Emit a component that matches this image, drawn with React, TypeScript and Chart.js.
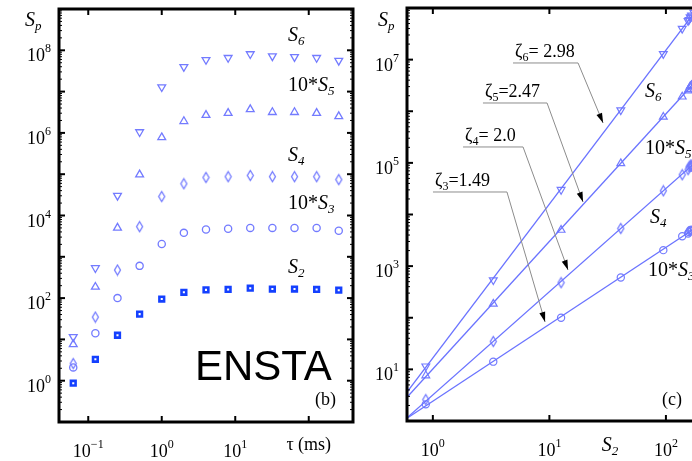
import React, { useEffect, useRef } from 'react';
import { Chart, registerables } from 'chart.js';

Chart.register(...registerables);

// ---------------- data ----------------
const tauMs = [0.0625, 0.125, 0.25, 0.5, 1, 2, 4, 8, 16, 32, 64, 128, 256];
const S2 = [0.87, 3.3, 12.6, 41, 95, 138, 158, 162, 174, 166, 166, 162, 155];
const tenS3 = [2.1, 14.1, 100, 603, 2040, 3800, 4570, 4790, 5010, 5010, 5010, 5010, 4270];
const S4 = [2.6, 34.7, 479, 5370, 28800, 58900, 83200, 87100, 93300, 87100, 87100, 87100, 74100];
const tenS5 = [7.6, 186, 5010, 97700, 776000, 1910000, 2690000, 3020000, 3720000, 3160000, 3160000, 3020000, 2510000];
const S6 = [11.5, 537, 30200, 1050000, 12900000, 39800000, 58900000, 66100000, 81300000, 72400000, 69200000, 66100000, 56200000];

const zeta3 = 1.49;
const zeta4 = 2.0;
const zeta5 = 2.47;
const zeta6 = 2.98;

// tick labels
const leftXTickLabels = [0.1, 1, 10];
const leftYTickLabels = [1, 1e2, 1e4, 1e6, 1e8];
const rightXTickLabels = [1, 10, 100];
const rightYTickLabels = [10, 1e3, 1e5, 1e7];

// axis ranges
const leftX = { min: 0.04, max: 400 };
const leftY = { min: 0.1, max: 1e9 };
const rightX = { min: 0.6, max: 200 };
const rightY = { min: 1, max: 1e8 };

// ---------------- annotation placement (log10 data units) ----------------
const leftSeriesLabels = [
  { pre: '', sub: '6', lx: 1.718, ly: 8.225 },
  { pre: '10*', sub: '5', lx: 1.718, ly: 7.01 },
  { pre: '', sub: '4', lx: 1.718, ly: 5.32 },
  { pre: '10*', sub: '3', lx: 1.718, ly: 4.157 },
  { pre: '', sub: '2', lx: 1.718, ly: 2.608 },
];
const rightSeriesLabels = [
  { pre: '', sub: '6', lx: 1.821, ly: 6.276 },
  { pre: '10*', sub: '5', lx: 1.821, ly: 5.172 },
  { pre: '', sub: '4', lx: 1.864, ly: 3.835 },
  { pre: '10*', sub: '3', lx: 1.847, ly: 2.809 },
];
const zetaNotes = [
  { sub: '6', text: '= 2.98', x0: 0.688, x1: 1.246, y: 6.935, tipX: 1.461, tipY: 5.772 },
  { sub: '5', text: '=2.47', x0: 0.43, x1: 0.98, y: 6.16, tipX: 1.289, tipY: 4.242 },
  { sub: '4', text: '= 2.0', x0: 0.259, x1: 0.774, y: 5.308, tipX: 1.16, tipY: 2.925 },
  { sub: '3', text: '=1.49', x0: 0.001, x1: 0.636, y: 4.436, tipX: 0.963, tipY: 1.918 },
];

const LIGHT = '#737bff';
const LINE = '#6a73ff';
const DARK = '#1440ff';
const SERIF = '"Liberation Serif", "Times New Roman", Times, serif';
const SANS = '"Liberation Sans", Arial, sans-serif';

type Part = { t: string; size: number; italic?: boolean; dy?: number; font?: string };

function drawParts(ctx: CanvasRenderingContext2D, parts: Part[], x: number, y: number, align: 'left' | 'center' | 'right' = 'left') {
  ctx.save();
  ctx.fillStyle = '#000';
  ctx.textBaseline = 'alphabetic';
  ctx.textAlign = 'left';
  const fontOf = (p: Part) => `${p.italic ? 'italic ' : ''}${p.size}px ${p.font ?? SERIF}`;
  const ws = parts.map((p) => {
    ctx.font = fontOf(p);
    return ctx.measureText(p.t).width;
  });
  const total = ws.reduce((a, b) => a + b, 0);
  let cx = align === 'left' ? x : align === 'center' ? x - total / 2 : x - total;
  parts.forEach((p, i) => {
    ctx.font = fontOf(p);
    ctx.fillText(p.t, cx, y + (p.dy ?? 0));
    cx += ws[i];
  });
  ctx.restore();
}

const pow10 = (v: number): Part[] => {
  const e = Math.round(Math.log10(v));
  return [
    { t: '10', size: 18 },
    { t: (e < 0 ? '−' : '') + Math.abs(e), size: 12, dy: -9 },
  ];
};
const sLabel = (sub: string, pre = ''): Part[] => [
  ...(pre ? [{ t: pre, size: 20 }] : []),
  { t: 'S', size: 20, italic: true },
  { t: sub, size: 13, italic: true, dy: 4 },
];

function decades(min: number, max: number) {
  const out: number[] = [];
  for (let e = Math.ceil(Math.log10(min) - 1e-9); e <= Math.floor(Math.log10(max) + 1e-9); e++) out.push(10 ** e);
  return out;
}
function minors(min: number, max: number) {
  const out: number[] = [];
  for (let e = Math.floor(Math.log10(min)); e <= Math.ceil(Math.log10(max)); e++)
    for (let m = 2; m <= 9; m++) {
      const v = m * 10 ** e;
      if (v > min && v < max) out.push(v);
    }
  return out;
}

function drawFrame(chart: any) {
  const { ctx, chartArea: a } = chart;
  const xs = chart.scales.x;
  const ys = chart.scales.y;
  ctx.save();
  ctx.strokeStyle = '#000';
  const seg = (x1: number, y1: number, x2: number, y2: number, w: number) => {
    ctx.lineWidth = w;
    ctx.beginPath();
    ctx.moveTo(x1, y1);
    ctx.lineTo(x2, y2);
    ctx.stroke();
  };
  for (const v of decades(ys.min, ys.max)) {
    const p = ys.getPixelForValue(v);
    seg(a.left, p, a.left + 6, p, 2);
    seg(a.right, p, a.right - 6, p, 2);
  }
  for (const v of minors(ys.min, ys.max)) {
    const p = ys.getPixelForValue(v);
    seg(a.left, p, a.left + 3, p, 1);
    seg(a.right, p, a.right - 3, p, 1);
  }
  for (const v of decades(xs.min, xs.max)) {
    const p = xs.getPixelForValue(v);
    seg(p, a.bottom, p, a.bottom - 6, 2);
    seg(p, a.top, p, a.top + 6, 2);
  }
  ctx.lineWidth = 3;
  ctx.strokeRect(a.left, a.top, a.right - a.left, a.bottom - a.top);
  ctx.restore();
}

function drawTickLabels(chart: any, xt: number[], yt: number[]) {
  const { ctx, chartArea: a } = chart;
  const xs = chart.scales.x;
  const ys = chart.scales.y;
  for (const v of xt) drawParts(ctx, pow10(v), xs.getPixelForValue(v), a.bottom + 35, 'center');
  for (const v of yt) drawParts(ctx, pow10(v), a.left - 8, ys.getPixelForValue(v) + 11, 'right');
}

function makeDiamond(w: number, h: number, color: string, lw: number) {
  const c = document.createElement('canvas');
  c.width = w + 3;
  c.height = h + 3;
  const g = c.getContext('2d')!;
  g.strokeStyle = color;
  g.lineWidth = lw;
  const cx = c.width / 2;
  const cy = c.height / 2;
  g.beginPath();
  g.moveTo(cx, cy - h / 2);
  g.lineTo(cx + w / 2, cy);
  g.lineTo(cx, cy + h / 2);
  g.lineTo(cx - w / 2, cy);
  g.closePath();
  g.stroke();
  return c;
}

function fitLine(yv: number[], z: number) {
  const c = yv.reduce((s, v, i) => s + Math.log10(v) - z * Math.log10(S2[i]), 0) / yv.length;
  return [rightX.min, rightX.max].map((x) => ({ x, y: 10 ** (c + z * Math.log10(x)) }));
}

const pts = (xv: number[], yv: number[]) => xv.map((x, i) => ({ x, y: yv[i] }));

export default function App() {
  const leftRef = useRef<HTMLCanvasElement>(null);
  const rightRef = useRef<HTMLCanvasElement>(null);

  useEffect(() => {
    const diamond = makeDiamond(6, 10, LIGHT, 1.3);
    const markerStyles: any[] = [
      { pointStyle: 'triangle', pointRotation: 180, pointRadius: 4.5 },
      { pointStyle: 'triangle', pointRotation: 0, pointRadius: 4.5 },
      { pointStyle: diamond, pointRadius: 5 },
      { pointStyle: 'circle', pointRadius: 3.6 },
    ];
    const ySeries = [S6, tenS5, S4, tenS3];
    const names = ['S6', '10*S5', 'S4', '10*S3'];
    const zetas = [zeta6, zeta5, zeta4, zeta3];

    const baseOptions = (xr: any, yr: any, padding: any, plugins: any) => ({
      responsive: false,
      maintainAspectRatio: false,
      animation: false as const,
      devicePixelRatio: 1,
      events: [],
      layout: { padding },
      scales: {
        x: { type: 'logarithmic' as const, min: xr.min, max: xr.max, display: false },
        y: { type: 'logarithmic' as const, min: yr.min, max: yr.max, display: false },
      },
      plugins: { legend: { display: false }, tooltip: { enabled: false }, ...plugins },
    });

    const leftPlugin = {
      id: 'leftDecor',
      afterDraw(chart: any) {
        const { ctx, chartArea: a } = chart;
        const xs = chart.scales.x;
        const ys = chart.scales.y;
        drawFrame(chart);
        drawTickLabels(chart, leftXTickLabels, leftYTickLabels);
        drawParts(ctx, [{ t: 'τ (ms)', size: 18 }], xs.getPixelForValue(100), a.bottom + 28, 'center');
        drawParts(ctx, [{ t: 'S', size: 20, italic: true }, { t: 'p', size: 13, italic: true, dy: 4 }], a.left - 34, a.top + 17);
        for (const l of leftSeriesLabels)
          drawParts(ctx, sLabel(l.sub, l.pre), xs.getPixelForValue(10 ** l.lx), ys.getPixelForValue(10 ** l.ly));
        drawParts(ctx, [{ t: 'ENSTA', size: 42, font: SANS }], xs.getPixelForValue(10 ** 0.452), ys.getPixelForValue(10 ** 0.017));
        drawParts(ctx, [{ t: '(b)', size: 18 }], xs.getPixelForValue(10 ** 2.085), ys.getPixelForValue(10 ** -0.588));
      },
    };

    const rightPlugin = {
      id: 'rightDecor',
      afterDraw(chart: any) {
        const { ctx, chartArea: a } = chart;
        const xs = chart.scales.x;
        const ys = chart.scales.y;
        drawFrame(chart);
        drawTickLabels(chart, rightXTickLabels, rightYTickLabels);
        drawParts(ctx, sLabel('2'), xs.getPixelForValue(10 ** 1.52), a.bottom + 30, 'center');
        drawParts(ctx, [{ t: 'S', size: 20, italic: true }, { t: 'p', size: 13, italic: true, dy: 4 }], a.left - 29, a.top + 18);
        for (const l of rightSeriesLabels)
          drawParts(ctx, sLabel(l.sub, l.pre), xs.getPixelForValue(10 ** l.lx), ys.getPixelForValue(10 ** l.ly));
        drawParts(ctx, [{ t: '(c)', size: 18 }], xs.getPixelForValue(10 ** 1.967), ys.getPixelForValue(10 ** 0.31));
        for (const n of zetaNotes) {
          const x0 = xs.getPixelForValue(10 ** n.x0);
          const x1 = xs.getPixelForValue(10 ** n.x1);
          const y = ys.getPixelForValue(10 ** n.y);
          const tx = xs.getPixelForValue(10 ** n.tipX);
          const ty = ys.getPixelForValue(10 ** n.tipY);
          drawParts(ctx, [{ t: 'ζ', size: 18 }, { t: n.sub, size: 12, dy: 4 }, { t: n.text, size: 18 }], x0 + 2, y - 6);
          ctx.save();
          ctx.strokeStyle = '#8c8c8c';
          ctx.lineWidth = 1;
          ctx.beginPath();
          ctx.moveTo(x0, y);
          ctx.lineTo(x1, y);
          ctx.lineTo(tx, ty);
          ctx.stroke();
          const ang = Math.atan2(ty - y, tx - x1);
          const L = 10;
          const W = 3;
          const bx = tx - L * Math.cos(ang);
          const by = ty - L * Math.sin(ang);
          ctx.fillStyle = '#000';
          ctx.beginPath();
          ctx.moveTo(tx, ty);
          ctx.lineTo(bx + W * Math.sin(ang), by - W * Math.cos(ang));
          ctx.lineTo(bx - W * Math.sin(ang), by + W * Math.cos(ang));
          ctx.closePath();
          ctx.fill();
          ctx.restore();
        }
      },
    };

    const leftDatasets: any[] = ySeries.map((yv, i) => ({
      label: names[i],
      data: pts(tauMs, yv),
      borderColor: LIGHT,
      backgroundColor: 'rgba(0,0,0,0)',
      borderWidth: 1.3,
      ...markerStyles[i],
    }));
    leftDatasets.push({
      label: 'S2',
      data: pts(tauMs, S2),
      pointStyle: 'rect',
      pointRadius: 3.3,
      borderWidth: 2.6,
      borderColor: DARK,
      backgroundColor: '#ffffff',
    });

    const rightDatasets: any[] = [];
    ySeries.forEach((yv, i) => {
      rightDatasets.push({
        label: names[i] + ' fit',
        data: fitLine(yv, zetas[i]),
        showLine: true,
        pointRadius: 0,
        borderColor: LINE,
        borderWidth: 1.3,
        clip: 0,
      });
      rightDatasets.push({
        label: names[i],
        data: pts(S2, yv),
        borderColor: LIGHT,
        backgroundColor: 'rgba(0,0,0,0)',
        borderWidth: 1.2,
        ...markerStyles[i],
      });
    });

    const left = new Chart(leftRef.current!, {
      type: 'scatter',
      data: { datasets: leftDatasets },
      options: baseOptions(leftX, leftY, { left: 59, top: 9, right: 7, bottom: 39 }, {}) as any,
      plugins: [leftPlugin],
    });
    const right = new Chart(rightRef.current!, {
      type: 'scatter',
      data: { datasets: rightDatasets },
      options: baseOptions(rightX, rightY, { left: 57, top: 8, right: 49, bottom: 40 }, {}) as any,
      plugins: [rightPlugin],
    });
    return () => {
      left.destroy();
      right.destroy();
    };
  }, []);

  return (
    <div style={{ position: 'fixed', left: 0, top: 0, width: 692, height: 461, overflow: 'hidden', background: '#fff' }}>
      <canvas ref={leftRef} width={360} height={461} style={{ position: 'absolute', left: 0, top: 0 }} />
      <canvas ref={rightRef} width={400} height={461} style={{ position: 'absolute', left: 350, top: 0 }} />
    </div>
  );
}
